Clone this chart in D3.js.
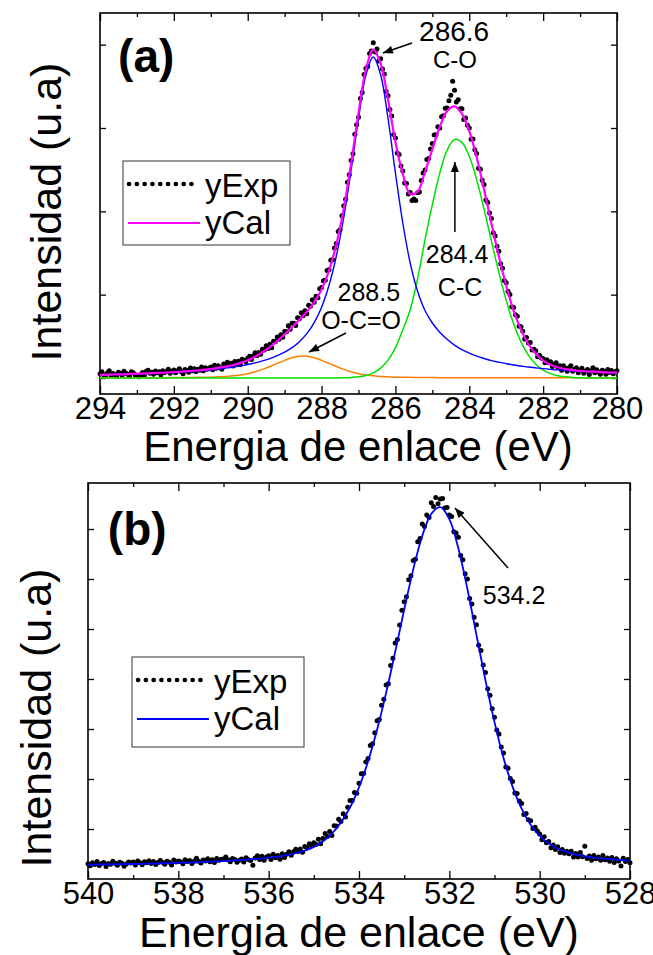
<!DOCTYPE html>
<html>
<head>
<meta charset="utf-8">
<script src="https://cdnjs.cloudflare.com/ajax/libs/d3/7.8.5/d3.min.js"></script>
<style>
  body { margin: 0; background: #fff; }
  svg text { font-family: "Liberation Sans", Arial, sans-serif; fill: #000; }
</style>
</head>
<body>
<div class="chart"></div>
<script>
// ---------- panel (a) data : C 1s ----------
// experimental points, 294 -> 280 eV every 0.05 eV
var aExpStart = 294, aExpStep = 0.05;
var aExp = [
  250,370,190,140,320,440,140,270,210,90,340,280,160,410,290,230,120,370,310,190,
  140,80,200,330,150,400,460,280,350,230,420,310,370,200,440,330,390,520,290,410,
  480,310,430,550,380,260,510,460,350,600,430,560,390,520,470,660,430,620,520,590,
  660,500,760,590,730,630,530,840,740,940,730,880,720,990,850,1000,790,1130,1050,970,
  1190,1300,1110,1340,1520,1340,1530,1420,1730,1680,1940,1770,2030,1820,2210,2190,2460,2320,2600,2450,
  2790,2780,3130,2930,3280,3280,3150,3620,3550,3910,3730,4030,3850,4360,4310,4700,4540,4910,4810,5360,
  5430,5830,5870,6450,6490,7070,7100,7800,8070,8790,8900,9740,10340,10720,11750,12190,13050,13450,14620,15190,
  15650,16770,17130,18210,18570,18690,19470,19620,20120,19560,19740,19020,19160,18540,18240,17190,16940,16110,15720,14610,
  14400,13500,13410,12720,12420,11700,11670,11040,11130,10650,10740,10650,11120,11160,11850,12300,12480,13110,13170,13740,
  14070,14580,14600,15080,15000,15680,15730,16190,16200,16640,16970,17800,17260,16560,16700,16150,16160,15510,15600,15160,
  15000,14320,14340,13700,13470,12590,12530,11860,11610,10680,10530,9900,9570,8710,8520,7910,7600,6850,6590,5850,
  5710,5200,5010,4280,4230,3800,3700,3110,3080,2800,2340,2430,2100,2130,1680,1720,1630,1280,1360,1200,
  1160,920,1090,910,970,690,830,910,630,730,460,740,600,400,620,730,410,520,620,310,
  480,590,290,400,510,210,440,620,320,490,360,230,470,400,220,510,330,450,260,380,440
];

// fitted curves, 294 -> 280 eV every 0.2 eV
var aFitStart = 294, aFitStep = 0.2;
var aCal = [
  190,200,210,220,240,260,270,290,310,330,
  360,380,410,450,490,540,610,680,780,910,
  1070,1280,1550,1850,2220,2610,3040,3490,3970,4540,
  5310,6430,8010,10160,12870,15890,18510,19700,18860,16700,
  14160,12240,11040,11180,12360,13730,15060,16020,16300,15860,
  14810,13230,11310,9270,7300,5530,4050,2900,2040,1450,
  1040,790,630,540,470,420,390,380,350,330,
  320
];
var aCO = [   // 286.6 eV, C-O
  180,190,200,210,220,240,250,270,290,310,
  330,350,380,410,450,490,540,590,650,730,
  810,910,1030,1160,1340,1550,1820,2180,2660,3320,
  4250,5550,7320,9630,12470,15560,18180,19260,18180,15560,
  12300,9300,6900,5200,4050,3300,2750,2330,1970,1700,
  1490,1310,1170,1040,950,860,780,720,660,610,
  560,520,490,460,430,400,380,370,340,320,
  310
];
var aCC = [   // 284.4 eV, C-C
  0,0,0,0,0,0,0,0,0,0,
  0,0,0,0,0,0,0,0,0,0,
  0,0,0,0,0,0,0,0,0,0,
  0,0,0,10,30,70,150,310,590,1070,
  1810,2900,4100,5950,8280,10400,12290,13670,14310,14140,
  13300,11900,10130,8220,6340,4660,3260,2170,1370,830,
  470,260,130,70,30,10,0,0,0,0,
  0
];
var aOCO = [  // 288.5 eV, O-C=O
  10,10,10,10,20,20,20,20,20,20,
  30,30,30,40,40,50,70,90,130,180,
  260,370,520,690,880,1060,1220,1310,1310,1220,
  1060,880,690,520,370,260,180,130,90,70,
  50,40,40,30,30,30,20,20,20,20,
  20,20,10,10,10,10,10,10,10,10,
  10,10,10,10,10,10,10,10,10,10,
  10
];
var aMajor = [294, 292, 290, 288, 286, 284, 282, 280];
var aMinor = [293, 291, 289, 287, 285, 283, 281];
var aYTicks = [0, 5000, 10000, 15000, 20000];

// ---------- panel (b) data : O 1s ----------
var bExpStart = 540, bExpStep = 0.05;
var bExp = [
  3060,2670,3270,2880,3490,2700,3100,3310,2510,3120,2930,3530,3140,2750,3360,3160,2570,2980,3390,3200,
  3400,2810,3620,3230,2840,3450,3260,3670,3080,3490,2900,3310,3720,3330,2950,3560,3370,2780,3800,3410,
  3620,3440,3050,3870,3480,3700,3110,3530,4140,3560,3180,3790,3610,4030,3450,3870,3290,4110,3740,3960,
  3980,4410,3830,3460,4080,3910,3340,3760,3990,3420,4260,3890,3720,2760,4200,4640,3880,4530,3770,4420,
  4660,3920,4970,4230,4680,3950,5030,4300,4970,5470,4760,5460,5950,5480,6020,5350,6480,6270,7060,6640,
  7230,6900,7970,7050,8120,9110,8500,9490,8680,10630,10580,11930,11480,13040,12390,14350,15700,15710,17320,17130,
  19140,21030,21120,23410,24100,26680,27070,29250,31630,31880,34730,35970,38820,39060,42700,44140,47180,47900,50810,53730,
  55440,56450,59860,60670,63680,63960,67440,68120,71000,70510,72820,72320,75230,74500,76300,75050,75980,76100,74200,74300,
  72780,72520,69460,69200,68330,64700,63860,61030,59990,56100,55010,52330,50840,46760,45680,42800,41320,38030,36740,34060,
  32370,29780,28990,26410,25220,22390,22150,20120,19480,17180,17080,15580,15080,12880,13080,11870,11670,10110,10350,9580,
  9020,7840,8460,7270,7490,6230,6780,5920,6460,5290,5920,5150,5570,5050,5530,4410,5090,4410,5320,4440,
  6550,4090,4620,3760,4690,4040,4390,3740,4690,3850,4210,3560,4320,3290,4050,3620,2580,4150,3520,3890,3260
];
var bFitStart = 540, bFitStep = 0.2;
var bCal = [
  2860,2890,2910,2940,2970,3000,3040,3080,3120,3170,
  3220,3280,3340,3410,3490,3580,3680,3790,3920,4080,
  4260,4480,4770,5150,5680,6430,7520,9080,11280,14300,
  18340,23500,29830,37220,45380,53840,61880,68600,73030,74380,
  71980,66130,57990,48840,39720,31370,24220,18480,14080,10870,
  8620,7090,6060,5370,4890,4550,4290,4090,3920,3780,
  3660
];
var bMajor = [540, 538, 536, 534, 532, 530, 528];
var bMinor = [539, 537, 535, 533, 531, 529];
var bYTicks = [10000, 20000, 30000, 40000, 50000, 60000, 70000];

var svg = d3.select(".chart")
  .append("svg")
  .attr("width", 653)
  .attr("height", 955);

svg.append("defs").append("marker")
  .attr("id", "arrow")
  .attr("viewBox", "0 0 10 8")
  .attr("refX", 10)
  .attr("refY", 4)
  .attr("markerWidth", 11)
  .attr("markerHeight", 8)
  .attr("markerUnits", "userSpaceOnUse")
  .attr("orient", "auto")
  .append("path")
  .attr("d", "M0,0L10,4L0,8Z")
  .attr("fill", "#000");

// frame with inward ticks on all four sides
function drawFrame(g, x, y, major, minor, yTicks, w, h) {
  function style(s) {
    s.select(".domain").remove();
    s.selectAll("line").attr("stroke-width", 1.3);
  }
  g.append("g").attr("transform", `translate(0,${h})`)
    .call(d3.axisBottom(x).tickValues(major).tickSizeInner(-8).tickSizeOuter(0).tickPadding(3))
    .call(style)
    .attr("font-size", 31)
    .attr("font-family", "Liberation Sans, Arial, sans-serif");
  g.append("g").attr("transform", `translate(0,${h})`)
    .call(d3.axisBottom(x).tickValues(minor).tickSize(-4).tickFormat(""))
    .call(style);
  g.append("g")
    .call(d3.axisTop(x).tickValues(major).tickSize(-8).tickFormat(""))
    .call(style);
  g.append("g")
    .call(d3.axisTop(x).tickValues(minor).tickSize(-4).tickFormat(""))
    .call(style);
  g.append("g")
    .call(d3.axisLeft(y).tickValues(yTicks).tickSize(-6).tickFormat(""))
    .call(style);
  g.append("g").attr("transform", `translate(${w},0)`)
    .call(d3.axisRight(y).tickValues(yTicks).tickSize(-6).tickFormat(""))
    .call(style);
  g.append("rect")
    .attr("width", w)
    .attr("height", h)
    .attr("fill", "none")
    .attr("stroke", "#000")
    .attr("stroke-width", 1.6);
}

function fitLine(x, y, start, step) {
  return d3.line()
    .x((d, i) => x(start - i * step))
    .y(d => y(d))
    .curve(d3.curveCatmullRom.alpha(0.5));
}

function drawLegend(g, lx, ly, bw, bh, color) {
  var lg = g.append("g").attr("transform", `translate(${lx},${ly})`);
  lg.append("rect")
    .attr("width", bw).attr("height", bh)
    .attr("fill", "#fff").attr("stroke", "#333").attr("stroke-width", 1);
  lg.append("line")
    .attr("x1", 6).attr("x2", 76).attr("y1", 23).attr("y2", 23)
    .attr("stroke", "#000").attr("stroke-width", 4.6)
    .attr("stroke-linecap", "round").attr("stroke-dasharray", "0.1 7.7");
  lg.append("line")
    .attr("x1", 5).attr("x2", 77).attr("y1", 62).attr("y2", 62)
    .attr("stroke", color).attr("stroke-width", 2);
  lg.append("text").attr("x", 82).attr("y", 36).attr("font-size", 33).text("yExp");
  lg.append("text").attr("x", 82).attr("y", 73).attr("font-size", 33).text("yCal");
}

// ================= panel (a) =================
var aLeft = 100, aTop = 13, aW = 517, aH = 381;
var ga = svg.append("g").attr("transform", `translate(${aLeft},${aTop})`);
var xa = d3.scaleLinear().domain([294, 280]).range([0, aW]);
var ya = d3.scaleLinear().domain([-960, 21900]).range([aH, 0]);

drawFrame(ga, xa, ya, aMajor, aMinor, aYTicks, aW, aH);

ga.selectAll(".exp")
  .data(aExp)
  .enter()
  .append("circle")
  .attr("class", "exp")
  .attr("cx", (d, i) => xa(aExpStart - i * aExpStep))
  .attr("cy", d => ya(d))
  .attr("r", 2.5)
  .attr("fill", "#000");

var lineA = fitLine(xa, ya, aFitStart, aFitStep);
ga.append("path").datum(aOCO).attr("d", lineA).attr("fill", "none").attr("stroke", "#ff8000").attr("stroke-width", 1.5);
ga.append("path").datum(aCC).attr("d", lineA).attr("fill", "none").attr("stroke", "#00e000").attr("stroke-width", 1.5);
ga.append("path").datum(aCO).attr("d", lineA).attr("fill", "none").attr("stroke", "#0000ff").attr("stroke-width", 1.4);
ga.append("path").datum(aCal).attr("d", lineA).attr("fill", "none").attr("stroke", "#ff00ff").attr("stroke-width", 2.2);

drawLegend(ga, 23, 148, 167, 84, "#ff00ff");

// annotations
ga.append("text").attr("x", xa(293.51)).attr("y", ya(18360))
  .attr("font-family", "Lato, sans-serif").attr("font-weight", "bold").attr("font-size", 46).text("(a)");
ga.append("text").attr("x", xa(284.41)).attr("y", ya(20220)).attr("text-anchor", "middle").attr("font-size", 28).text("286.6");
ga.append("text").attr("x", xa(284.39)).attr("y", ya(18600)).attr("text-anchor", "middle").attr("font-size", 24).text("C-O");
ga.append("text").attr("x", xa(284.33)).attr("y", ya(6900)).attr("text-anchor", "middle").attr("font-size", 25).text("284.4");
ga.append("text").attr("x", xa(284.25)).attr("y", ya(4950)).attr("text-anchor", "middle").attr("font-size", 25).text("C-C");
ga.append("text").attr("x", xa(286.72)).attr("y", ya(4620)).attr("text-anchor", "middle").attr("font-size", 25).text("288.5");
ga.append("text").attr("x", xa(286.93)).attr("y", ya(2950)).attr("text-anchor", "middle").attr("font-size", 25).text("O-C=O");

var aArrows = [
  [285.55, 20100, 286.34, 19500],
  [284.39, 8760, 284.39, 12960],
  [287.34, 2700, 288.34, 1560]
];
ga.selectAll(".arr")
  .data(aArrows)
  .enter()
  .append("line")
  .attr("x1", d => xa(d[0])).attr("y1", d => ya(d[1]))
  .attr("x2", d => xa(d[2])).attr("y2", d => ya(d[3]))
  .attr("stroke", "#000").attr("stroke-width", 1.5)
  .attr("marker-end", "url(#arrow)");

svg.append("text")
  .attr("x", 358).attr("y", 461)
  .attr("text-anchor", "middle").attr("font-size", 42)
  .text("Energia de enlace (eV)");
svg.append("text")
  .attr("transform", "translate(61,212) rotate(-90)")
  .attr("text-anchor", "middle").attr("font-size", 43)
  .text("Intensidad (u.a)");

// ================= panel (b) =================
var bLeft = 88, bTop = 483, bW = 542, bH = 396;
var gb = svg.append("g").attr("transform", `translate(${bLeft},${bTop})`);
var xb = d3.scaleLinear().domain([540, 528]).range([0, bW]);
var yb = d3.scaleLinear().domain([0, 79200]).range([bH, 0]);

drawFrame(gb, xb, yb, bMajor, bMinor, bYTicks, bW, bH);

gb.selectAll(".exp")
  .data(bExp)
  .enter()
  .append("circle")
  .attr("class", "exp")
  .attr("cx", (d, i) => xb(bExpStart - i * bExpStep))
  .attr("cy", d => yb(d))
  .attr("r", 2.5)
  .attr("fill", "#000");

gb.append("path").datum(bCal)
  .attr("d", fitLine(xb, yb, bFitStart, bFitStep))
  .attr("fill", "none").attr("stroke", "#0000ff").attr("stroke-width", 1.8);

drawLegend(gb, 44, 174, 172, 90, "#0000ff");

gb.append("text").attr("x", xb(539.56)).attr("y", yb(66800))
  .attr("font-family", "Lato, sans-serif").attr("font-weight", "bold").attr("font-size", 46).text("(b)");
gb.append("text").attr("x", xb(531.26)).attr("y", yb(55000)).attr("font-size", 25).text("534.2");
gb.append("line")
  .attr("x1", xb(530.70)).attr("y1", yb(62200))
  .attr("x2", xb(531.875)).attr("y2", yb(74200))
  .attr("stroke", "#000").attr("stroke-width", 1.5)
  .attr("marker-end", "url(#arrow)");

svg.append("text")
  .attr("x", 359).attr("y", 947)
  .attr("text-anchor", "middle").attr("font-size", 43)
  .text("Energia de enlace (eV)");
svg.append("text")
  .attr("transform", "translate(51,718) rotate(-90)")
  .attr("text-anchor", "middle").attr("font-size", 43)
  .text("Intensidad (u.a)");
</script>
</body>
</html>
